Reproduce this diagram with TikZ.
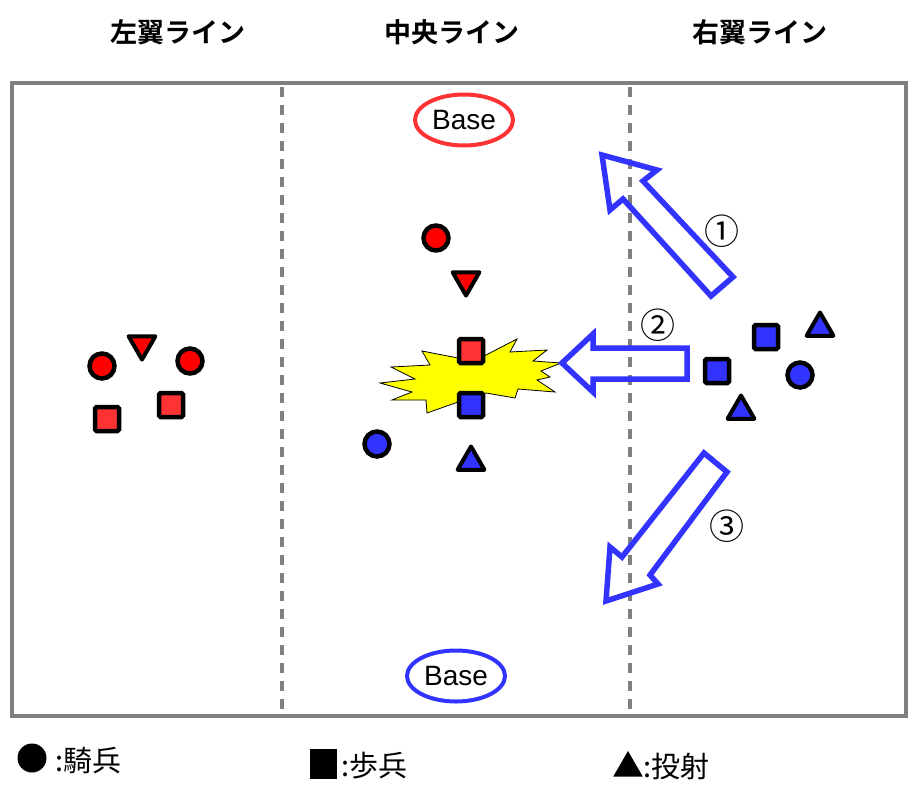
\documentclass[tikz,border=0pt]{standalone}
\usepackage{fontspec}
\setmainfont{Liberation Sans}
\newfontfamily\jpfont{Noto Sans CJK JP}
\newfontfamily\jpboldfont{Noto Sans CJK JP Bold}
\usetikzlibrary{shapes.geometric,positioning}

\definecolor{armyred}{HTML}{FF0000}
\definecolor{squarered}{HTML}{FF3333}
\definecolor{armyblue}{HTML}{3333FF}
\definecolor{lanegray}{HTML}{808080}
\definecolor{clashyellow}{HTML}{FFFF00}

\tikzset{
  header/.style={font=\jpboldfont\fontsize{27}{27}\selectfont,inner sep=0pt},
  frame/.style={draw=lanegray,line width=4.5},
  laneline/.style={draw=lanegray,line width=4,dash pattern=on 10pt off 8pt},
  base/.style={ellipse,line width=4,minimum width=98,minimum height=51,
    inner sep=0pt,font=\fontsize{28}{28}\selectfont},
  cav/.style={circle,draw=black,line width=4.5,minimum size=25,inner sep=0pt},
  inf/.style={rectangle,draw=black,line width=4.5,minimum size=24,
    rounded corners=1.5,inner sep=0pt},
  art/.style={regular polygon,regular polygon sides=3,draw=black,
    line width=4,line join=round,minimum size=31,inner sep=0pt},
  artdown/.style={art,shape border rotate=180},
  redarmy/.style={fill=armyred},
  redsquare/.style={fill=squarered},
  bluearmy/.style={fill=armyblue},
  move/.style={draw=armyblue,line width=5.5,line join=miter},
  clash/.style={fill=clashyellow,draw=black,line width=0.8},
  stepnum/.style={font=\jpfont\fontsize{35}{35}\selectfont,inner sep=0pt},
  legendmark/.style={fill=black,inner sep=0pt},
  legendtext/.style={font=\jpfont\fontsize{29}{29}\selectfont,inner sep=0pt}
}

\begin{document}
\begin{tikzpicture}[x=1pt,y=-1pt]
  \useasboundingbox (0,0) rectangle (913,790);

  % Lane titles
  \node[header] (hleft) at (178,32) {左翼ライン};
  \node[header] (hcenter) at (452,32) {中央ライン};
  \node[header] (hright) at (760,32) {右翼ライン};

  % Field and lanes
  \draw[frame] (12,83) rectangle (906,716);
  \draw[laneline] (282,87) -- (282,714);
  \draw[laneline] (630,87) -- (630,714);

  % Bases
  \node[base,draw=squarered] (redbase) at (464,120) {Base};
  \node[base,draw=armyblue] (bluebase) at (456,676) {Base};

  % Clash in the centre lane
  \draw[clash] (380,383) -- (415,379) -- (391,367) -- (430,365) -- (422,351)
    -- (458,358) -- (484,356) -- (517,339) -- (510,352) -- (547,350)
    -- (533,361) -- (561,363) -- (541,371) -- (550,377) -- (537,380)
    -- (555,392) -- (518,389) -- (515,398) -- (486,393) -- (458,402)
    -- (427,413) -- (426,400) -- (392,400) -- (412,392) -- cycle;

  % Moves of the right-lane army
  \draw[move] (602,155) -- (657,170) -- (643,181) -- (733,277) -- (711,296)
    -- (623,199) -- (610,210) -- cycle;
  \draw[move] (562,363) -- (593,334) -- (593,348) -- (687,348) -- (687,379)
    -- (593,379) -- (593,392) -- cycle;
  \draw[move] (606,601) -- (610,547) -- (622,557) -- (704,453) -- (727,472)
    -- (650,575) -- (658,584) -- cycle;
  \node[stepnum] (num1) at (722,231) {①};
  \node[stepnum] (num2) at (658,325) {②};
  \node[stepnum] (num3) at (727,526) {③};

  % Red army, left lane
  \node[cav,redarmy] (lcav1) at (102,366) {};
  \node[cav,redarmy] (lcav2) at (190,361) {};
  \node[artdown,redarmy] (lart) at (142,344) {};
  \node[inf,redsquare] (linf1) at (107,419) {};
  \node[inf,redsquare] (linf2) at (171,405) {};

  % Centre lane
  \node[cav,redarmy] (ccav) at (436,238) {};
  \node[artdown,redarmy] (cart) at (466,280) {};
  \node[inf,redsquare] (cinf) at (471,351) {};
  \node[inf,bluearmy] (binf) at (471,405) {};
  \node[cav,bluearmy] (bcav) at (377,444) {};
  \node[art,bluearmy] (bart) at (471,462) {};

  % Blue army, right lane
  \node[inf,bluearmy] (rinf1) at (766,337) {};
  \node[inf,bluearmy] (rinf2) at (717,371) {};
  \node[art,bluearmy] (rart1) at (820,328) {};
  \node[cav,bluearmy] (rcav) at (800,375) {};
  \node[art,bluearmy] (rart2) at (741,411) {};

  % Legend
  \node[legendmark,circle,minimum size=29] (keycav) at (32,758) {};
  \node[legendtext,right=9pt of keycav,yshift=-3pt] (keycavtext) {:騎兵};
  \node[legendmark,rectangle,minimum width=27,minimum height=30] (keyinf) at (323,764) {};
  \node[legendtext,right=5pt of keyinf,yshift=-2pt] (keyinftext) {:歩兵};
  \node[legendmark,regular polygon,regular polygon sides=3,minimum size=34] (keyart) at (628,768) {};
  \node[legendtext,right=5pt of keyart.east|-keyinf,yshift=-2pt] (keyarttext) {:投射};
\end{tikzpicture}
\end{document}
